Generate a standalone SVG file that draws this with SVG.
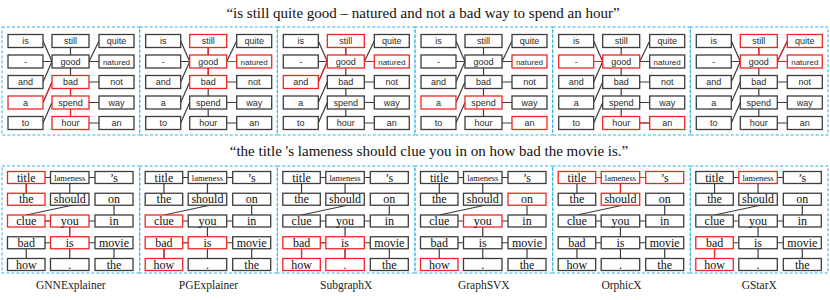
<svg xmlns="http://www.w3.org/2000/svg" xmlns:xlink="http://www.w3.org/1999/xlink" width="830" height="300" viewBox="0 0 830 300">
<style>
.pn{fill:none;stroke:#2fb2e6;stroke-width:1;stroke-dasharray:3 2}
.n rect{fill:#fff;stroke:#3c3c3c;stroke-width:1.3}
.n.r rect{stroke:#f02424}
.tt text{font-family:"Liberation Sans",Arial,sans-serif;font-size:9px;fill:#2a2a2a;text-anchor:middle}
.tt text.sm{font-size:8px}
.bt text{font-family:"Liberation Serif","Times New Roman",serif;font-size:12px;fill:#111;text-anchor:middle}
.bt text.sm{font-size:8.5px}
.e{stroke:#3c3c3c;stroke-width:1.2;fill:none}
.er{stroke:#f02424;stroke-width:1.2;fill:none}
.title{font-family:"Liberation Serif","Times New Roman",serif;font-size:15px;text-anchor:middle;fill:#111}
.lab{font-family:"Liberation Serif","Times New Roman",serif;font-size:11.5px;text-anchor:middle;fill:#222}
</style>
<defs>
<path id="topEdges" class="e" d="M41,41 L50,61.5 M41,61.5 H50 M41,82 L50,61.5 M68.5,47.5 V55 M97,41 L87,61.5 M87,61.5 H97 M68.5,68 V75.5 M87,82 H97 M41,102.5 L50,82 M68.5,88.5 V96 M41,123 L50,102.5 M87,102.5 H97 M68.5,109 V116.5 M87,123 H97"/>
<path id="botEdges" class="e" d="M43,177.5 H48.5 M87,177.5 H93 M24.25,183.5 V193.25 M67.75,183.5 V193.25 M70,205.25 L24.25,215 M112,205.25 V215 M43,221 H48.5 M87,221 H93 M67.75,227 V236.75 M43,242.75 H48.5 M87,242.75 H93 M24.25,248.75 V258.5 M67.75,248.75 V258.5 M112,248.75 V258.5"/>
</defs>

<text class="title" x="423" y="17.5">“is still quite good – natured and not a bad way to spend an hour”</text>
<text class="title" x="429" y="156">“the title 's lameness should clue you in on how bad the movie is.”</text>

<g id="panels">
<rect class="pn" x="2" y="27" width="137.7" height="108"/>
<rect class="pn" x="139.7" y="27" width="137.6" height="108"/>
<rect class="pn" x="277.3" y="27" width="137.7" height="108"/>
<rect class="pn" x="415" y="27" width="137.7" height="108"/>
<rect class="pn" x="552.7" y="27" width="137.6" height="108"/>
<rect class="pn" x="690.3" y="27" width="137.7" height="108"/>
<rect class="pn" x="2" y="166" width="137.7" height="107"/>
<rect class="pn" x="139.7" y="166" width="137.6" height="107"/>
<rect class="pn" x="277.3" y="166" width="137.7" height="107"/>
<rect class="pn" x="415" y="166" width="137.7" height="107"/>
<rect class="pn" x="552.7" y="166" width="137.6" height="107"/>
<rect class="pn" x="690.3" y="166" width="137.7" height="107"/>
</g>

<g id="connectors">
<use xlink:href="#topEdges" href="#topEdges" transform="translate(2,0)"/>
<use xlink:href="#topEdges" href="#topEdges" transform="translate(139.7,0)"/>
<use xlink:href="#topEdges" href="#topEdges" transform="translate(277.3,0)"/>
<use xlink:href="#topEdges" href="#topEdges" transform="translate(415,0)"/>
<use xlink:href="#topEdges" href="#topEdges" transform="translate(552.7,0)"/>
<use xlink:href="#topEdges" href="#topEdges" transform="translate(690.3,0)"/>
<use xlink:href="#botEdges" href="#botEdges" transform="translate(2,0)"/>
<use xlink:href="#botEdges" href="#botEdges" transform="translate(139.7,0)"/>
<use xlink:href="#botEdges" href="#botEdges" transform="translate(277.3,0)"/>
<use xlink:href="#botEdges" href="#botEdges" transform="translate(415,0)"/>
<use xlink:href="#botEdges" href="#botEdges" transform="translate(552.7,0)"/>
<use xlink:href="#botEdges" href="#botEdges" transform="translate(690.3,0)"/>
<path class="er" transform="translate(2,0)" d="M41,102.5 L50,82 M68.5,88.5 V96 M68.5,109 V116.5"/>
<path class="er" transform="translate(139.7,0)" d="M68.5,47.5 V55 M87,61.5 H97 M68.5,68 V75.5"/>
<path class="er" transform="translate(277.3,0)" d="M68.5,47.5 V55 M87,61.5 H97 M41,82 L50,61.5"/>
<path class="er" transform="translate(552.7,0)" d="M41,61.5 H50 M87,123 H97"/>
<path class="er" transform="translate(690.3,0)" d="M68.5,47.5 V55 M97,41 L87,61.5 M87,61.5 H97"/>
<path class="er" transform="translate(2,0)" d="M24.25,183.5 V193.25 M43,221 H48.5 M67.75,227 V236.75"/>
<path class="er" transform="translate(139.7,0)" d="M43,242.75 H48.5 M24.25,248.75 V258.5"/>
<path class="er" transform="translate(277.3,0)" d="M43,242.75 H48.5 M24.25,248.75 V258.5 M67.75,248.75 V258.5"/>
<path class="er" transform="translate(552.7,0)" d="M43,177.5 H48.5 M87,177.5 H93 M67.75,183.5 V193.25"/>
<path class="er" transform="translate(690.3,0)" d="M24.25,248.75 V258.5"/>
</g>

<g class="tt" transform="translate(2,0)">
<g id="t1-is" class="n"><rect x="6" y="34.5" width="35" height="13"/><text x="23.5" y="44.3">is</text></g>
<g id="t1-dash" class="n"><rect x="6" y="55" width="35" height="13"/><text x="23.5" y="64.8">-</text></g>
<g id="t1-and" class="n"><rect x="6" y="75.5" width="35" height="13"/><text x="23.5" y="85.3">and</text></g>
<g id="t1-a" class="n r"><rect x="6" y="96" width="35" height="13"/><text x="23.5" y="105.8">a</text></g>
<g id="t1-to" class="n"><rect x="6" y="116.5" width="35" height="13"/><text x="23.5" y="126.3">to</text></g>
<g id="t1-still" class="n"><rect x="50" y="34.5" width="37" height="13"/><text x="68.5" y="44.3">still</text></g>
<g id="t1-good" class="n"><rect x="50" y="55" width="37" height="13"/><text x="68.5" y="64.8">good</text></g>
<g id="t1-bad" class="n r"><rect x="50" y="75.5" width="37" height="13"/><text x="68.5" y="85.3">bad</text></g>
<g id="t1-spend" class="n r"><rect x="50" y="96" width="37" height="13"/><text x="68.5" y="105.8">spend</text></g>
<g id="t1-hour" class="n r"><rect x="50" y="116.5" width="37" height="13"/><text x="68.5" y="126.3">hour</text></g>
<g id="t1-quite" class="n"><rect x="97" y="34.5" width="35" height="13"/><text x="114.5" y="44.3">quite</text></g>
<g id="t1-natured" class="n"><rect x="97" y="55" width="35" height="13"/><text class="sm" x="114.5" y="64.5">natured</text></g>
<g id="t1-not" class="n"><rect x="97" y="75.5" width="35" height="13"/><text x="114.5" y="85.3">not</text></g>
<g id="t1-way" class="n"><rect x="97" y="96" width="35" height="13"/><text x="114.5" y="105.8">way</text></g>
<g id="t1-an" class="n"><rect x="97" y="116.5" width="35" height="13"/><text x="114.5" y="126.3">an</text></g>
</g>

<g class="tt" transform="translate(139.7,0)">
<g id="t2-is" class="n"><rect x="6" y="34.5" width="35" height="13"/><text x="23.5" y="44.3">is</text></g>
<g id="t2-dash" class="n"><rect x="6" y="55" width="35" height="13"/><text x="23.5" y="64.8">-</text></g>
<g id="t2-and" class="n"><rect x="6" y="75.5" width="35" height="13"/><text x="23.5" y="85.3">and</text></g>
<g id="t2-a" class="n"><rect x="6" y="96" width="35" height="13"/><text x="23.5" y="105.8">a</text></g>
<g id="t2-to" class="n"><rect x="6" y="116.5" width="35" height="13"/><text x="23.5" y="126.3">to</text></g>
<g id="t2-still" class="n r"><rect x="50" y="34.5" width="37" height="13"/><text x="68.5" y="44.3">still</text></g>
<g id="t2-good" class="n r"><rect x="50" y="55" width="37" height="13"/><text x="68.5" y="64.8">good</text></g>
<g id="t2-bad" class="n r"><rect x="50" y="75.5" width="37" height="13"/><text x="68.5" y="85.3">bad</text></g>
<g id="t2-spend" class="n"><rect x="50" y="96" width="37" height="13"/><text x="68.5" y="105.8">spend</text></g>
<g id="t2-hour" class="n"><rect x="50" y="116.5" width="37" height="13"/><text x="68.5" y="126.3">hour</text></g>
<g id="t2-quite" class="n"><rect x="97" y="34.5" width="35" height="13"/><text x="114.5" y="44.3">quite</text></g>
<g id="t2-natured" class="n r"><rect x="97" y="55" width="35" height="13"/><text class="sm" x="114.5" y="64.5">natured</text></g>
<g id="t2-not" class="n"><rect x="97" y="75.5" width="35" height="13"/><text x="114.5" y="85.3">not</text></g>
<g id="t2-way" class="n"><rect x="97" y="96" width="35" height="13"/><text x="114.5" y="105.8">way</text></g>
<g id="t2-an" class="n"><rect x="97" y="116.5" width="35" height="13"/><text x="114.5" y="126.3">an</text></g>
</g>

<g class="tt" transform="translate(277.3,0)">
<g id="t3-is" class="n"><rect x="6" y="34.5" width="35" height="13"/><text x="23.5" y="44.3">is</text></g>
<g id="t3-dash" class="n"><rect x="6" y="55" width="35" height="13"/><text x="23.5" y="64.8">-</text></g>
<g id="t3-and" class="n r"><rect x="6" y="75.5" width="35" height="13"/><text x="23.5" y="85.3">and</text></g>
<g id="t3-a" class="n"><rect x="6" y="96" width="35" height="13"/><text x="23.5" y="105.8">a</text></g>
<g id="t3-to" class="n"><rect x="6" y="116.5" width="35" height="13"/><text x="23.5" y="126.3">to</text></g>
<g id="t3-still" class="n r"><rect x="50" y="34.5" width="37" height="13"/><text x="68.5" y="44.3">still</text></g>
<g id="t3-good" class="n r"><rect x="50" y="55" width="37" height="13"/><text x="68.5" y="64.8">good</text></g>
<g id="t3-bad" class="n"><rect x="50" y="75.5" width="37" height="13"/><text x="68.5" y="85.3">bad</text></g>
<g id="t3-spend" class="n"><rect x="50" y="96" width="37" height="13"/><text x="68.5" y="105.8">spend</text></g>
<g id="t3-hour" class="n"><rect x="50" y="116.5" width="37" height="13"/><text x="68.5" y="126.3">hour</text></g>
<g id="t3-quite" class="n"><rect x="97" y="34.5" width="35" height="13"/><text x="114.5" y="44.3">quite</text></g>
<g id="t3-natured" class="n r"><rect x="97" y="55" width="35" height="13"/><text class="sm" x="114.5" y="64.5">natured</text></g>
<g id="t3-not" class="n"><rect x="97" y="75.5" width="35" height="13"/><text x="114.5" y="85.3">not</text></g>
<g id="t3-way" class="n"><rect x="97" y="96" width="35" height="13"/><text x="114.5" y="105.8">way</text></g>
<g id="t3-an" class="n"><rect x="97" y="116.5" width="35" height="13"/><text x="114.5" y="126.3">an</text></g>
</g>

<g class="tt" transform="translate(415,0)">
<g id="t4-is" class="n"><rect x="6" y="34.5" width="35" height="13"/><text x="23.5" y="44.3">is</text></g>
<g id="t4-dash" class="n"><rect x="6" y="55" width="35" height="13"/><text x="23.5" y="64.8">-</text></g>
<g id="t4-and" class="n"><rect x="6" y="75.5" width="35" height="13"/><text x="23.5" y="85.3">and</text></g>
<g id="t4-a" class="n r"><rect x="6" y="96" width="35" height="13"/><text x="23.5" y="105.8">a</text></g>
<g id="t4-to" class="n"><rect x="6" y="116.5" width="35" height="13"/><text x="23.5" y="126.3">to</text></g>
<g id="t4-still" class="n"><rect x="50" y="34.5" width="37" height="13"/><text x="68.5" y="44.3">still</text></g>
<g id="t4-good" class="n"><rect x="50" y="55" width="37" height="13"/><text x="68.5" y="64.8">good</text></g>
<g id="t4-bad" class="n"><rect x="50" y="75.5" width="37" height="13"/><text x="68.5" y="85.3">bad</text></g>
<g id="t4-spend" class="n r"><rect x="50" y="96" width="37" height="13"/><text x="68.5" y="105.8">spend</text></g>
<g id="t4-hour" class="n"><rect x="50" y="116.5" width="37" height="13"/><text x="68.5" y="126.3">hour</text></g>
<g id="t4-quite" class="n"><rect x="97" y="34.5" width="35" height="13"/><text x="114.5" y="44.3">quite</text></g>
<g id="t4-natured" class="n r"><rect x="97" y="55" width="35" height="13"/><text class="sm" x="114.5" y="64.5">natured</text></g>
<g id="t4-not" class="n"><rect x="97" y="75.5" width="35" height="13"/><text x="114.5" y="85.3">not</text></g>
<g id="t4-way" class="n"><rect x="97" y="96" width="35" height="13"/><text x="114.5" y="105.8">way</text></g>
<g id="t4-an" class="n r"><rect x="97" y="116.5" width="35" height="13"/><text x="114.5" y="126.3">an</text></g>
</g>

<g class="tt" transform="translate(552.7,0)">
<g id="t5-is" class="n"><rect x="6" y="34.5" width="35" height="13"/><text x="23.5" y="44.3">is</text></g>
<g id="t5-dash" class="n r"><rect x="6" y="55" width="35" height="13"/><text x="23.5" y="64.8">-</text></g>
<g id="t5-and" class="n"><rect x="6" y="75.5" width="35" height="13"/><text x="23.5" y="85.3">and</text></g>
<g id="t5-a" class="n"><rect x="6" y="96" width="35" height="13"/><text x="23.5" y="105.8">a</text></g>
<g id="t5-to" class="n"><rect x="6" y="116.5" width="35" height="13"/><text x="23.5" y="126.3">to</text></g>
<g id="t5-still" class="n"><rect x="50" y="34.5" width="37" height="13"/><text x="68.5" y="44.3">still</text></g>
<g id="t5-good" class="n r"><rect x="50" y="55" width="37" height="13"/><text x="68.5" y="64.8">good</text></g>
<g id="t5-bad" class="n"><rect x="50" y="75.5" width="37" height="13"/><text x="68.5" y="85.3">bad</text></g>
<g id="t5-spend" class="n"><rect x="50" y="96" width="37" height="13"/><text x="68.5" y="105.8">spend</text></g>
<g id="t5-hour" class="n r"><rect x="50" y="116.5" width="37" height="13"/><text x="68.5" y="126.3">hour</text></g>
<g id="t5-quite" class="n"><rect x="97" y="34.5" width="35" height="13"/><text x="114.5" y="44.3">quite</text></g>
<g id="t5-natured" class="n"><rect x="97" y="55" width="35" height="13"/><text class="sm" x="114.5" y="64.5">natured</text></g>
<g id="t5-not" class="n"><rect x="97" y="75.5" width="35" height="13"/><text x="114.5" y="85.3">not</text></g>
<g id="t5-way" class="n"><rect x="97" y="96" width="35" height="13"/><text x="114.5" y="105.8">way</text></g>
<g id="t5-an" class="n r"><rect x="97" y="116.5" width="35" height="13"/><text x="114.5" y="126.3">an</text></g>
</g>

<g class="tt" transform="translate(690.3,0)">
<g id="t6-is" class="n"><rect x="6" y="34.5" width="35" height="13"/><text x="23.5" y="44.3">is</text></g>
<g id="t6-dash" class="n"><rect x="6" y="55" width="35" height="13"/><text x="23.5" y="64.8">-</text></g>
<g id="t6-and" class="n"><rect x="6" y="75.5" width="35" height="13"/><text x="23.5" y="85.3">and</text></g>
<g id="t6-a" class="n"><rect x="6" y="96" width="35" height="13"/><text x="23.5" y="105.8">a</text></g>
<g id="t6-to" class="n"><rect x="6" y="116.5" width="35" height="13"/><text x="23.5" y="126.3">to</text></g>
<g id="t6-still" class="n r"><rect x="50" y="34.5" width="37" height="13"/><text x="68.5" y="44.3">still</text></g>
<g id="t6-good" class="n r"><rect x="50" y="55" width="37" height="13"/><text x="68.5" y="64.8">good</text></g>
<g id="t6-bad" class="n"><rect x="50" y="75.5" width="37" height="13"/><text x="68.5" y="85.3">bad</text></g>
<g id="t6-spend" class="n"><rect x="50" y="96" width="37" height="13"/><text x="68.5" y="105.8">spend</text></g>
<g id="t6-hour" class="n"><rect x="50" y="116.5" width="37" height="13"/><text x="68.5" y="126.3">hour</text></g>
<g id="t6-quite" class="n r"><rect x="97" y="34.5" width="35" height="13"/><text x="114.5" y="44.3">quite</text></g>
<g id="t6-natured" class="n r"><rect x="97" y="55" width="35" height="13"/><text class="sm" x="114.5" y="64.5">natured</text></g>
<g id="t6-not" class="n"><rect x="97" y="75.5" width="35" height="13"/><text x="114.5" y="85.3">not</text></g>
<g id="t6-way" class="n"><rect x="97" y="96" width="35" height="13"/><text x="114.5" y="105.8">way</text></g>
<g id="t6-an" class="n"><rect x="97" y="116.5" width="35" height="13"/><text x="114.5" y="126.3">an</text></g>
</g>

<g class="bt" transform="translate(2,0)">
<g id="b1-title" class="n r"><rect x="5.5" y="171.5" width="37.5" height="12"/><text x="24.25" y="181.5">title</text></g>
<g id="b1-the" class="n r"><rect x="5.5" y="193.25" width="37.5" height="12"/><text x="24.25" y="203.3">the</text></g>
<g id="b1-clue" class="n r"><rect x="5.5" y="215" width="37.5" height="12"/><text x="24.25" y="225">clue</text></g>
<g id="b1-bad" class="n"><rect x="5.5" y="236.75" width="37.5" height="12"/><text x="24.25" y="246.8">bad</text></g>
<g id="b1-how" class="n"><rect x="5.5" y="258.5" width="37.5" height="12"/><text x="24.25" y="268.5">how</text></g>
<g id="b1-lameness" class="n"><rect x="48.5" y="171.5" width="38.5" height="12"/><text class="sm" x="67.75" y="180.5">lameness</text></g>
<g id="b1-should" class="n"><rect x="48.5" y="193.25" width="38.5" height="12"/><text x="67.75" y="203.3">should</text></g>
<g id="b1-you" class="n r"><rect x="48.5" y="215" width="38.5" height="12"/><text x="67.75" y="225">you</text></g>
<g id="b1-is" class="n r"><rect x="48.5" y="236.75" width="38.5" height="12"/><text x="67.75" y="246.8">is</text></g>
<g id="b1-dot" class="n"><rect x="48.5" y="258.5" width="38.5" height="12"/><text x="67.75" y="268.5">.</text></g>
<g id="b1-s" class="n"><rect x="93" y="171.5" width="38" height="12"/><text x="112" y="181.5">’s</text></g>
<g id="b1-on" class="n"><rect x="93" y="193.25" width="38" height="12"/><text x="112" y="203.3">on</text></g>
<g id="b1-in" class="n"><rect x="93" y="215" width="38" height="12"/><text x="112" y="225">in</text></g>
<g id="b1-movie" class="n"><rect x="93" y="236.75" width="38" height="12"/><text x="112" y="246.8">movie</text></g>
<g id="b1-the2" class="n"><rect x="93" y="258.5" width="38" height="12"/><text x="112" y="268.5">the</text></g>
</g>

<g class="bt" transform="translate(139.7,0)">
<g id="b2-title" class="n"><rect x="5.5" y="171.5" width="37.5" height="12"/><text x="24.25" y="181.5">title</text></g>
<g id="b2-the" class="n"><rect x="5.5" y="193.25" width="37.5" height="12"/><text x="24.25" y="203.3">the</text></g>
<g id="b2-clue" class="n r"><rect x="5.5" y="215" width="37.5" height="12"/><text x="24.25" y="225">clue</text></g>
<g id="b2-bad" class="n r"><rect x="5.5" y="236.75" width="37.5" height="12"/><text x="24.25" y="246.8">bad</text></g>
<g id="b2-how" class="n r"><rect x="5.5" y="258.5" width="37.5" height="12"/><text x="24.25" y="268.5">how</text></g>
<g id="b2-lameness" class="n"><rect x="48.5" y="171.5" width="38.5" height="12"/><text class="sm" x="67.75" y="180.5">lameness</text></g>
<g id="b2-should" class="n"><rect x="48.5" y="193.25" width="38.5" height="12"/><text x="67.75" y="203.3">should</text></g>
<g id="b2-you" class="n"><rect x="48.5" y="215" width="38.5" height="12"/><text x="67.75" y="225">you</text></g>
<g id="b2-is" class="n r"><rect x="48.5" y="236.75" width="38.5" height="12"/><text x="67.75" y="246.8">is</text></g>
<g id="b2-dot" class="n"><rect x="48.5" y="258.5" width="38.5" height="12"/><text x="67.75" y="268.5">.</text></g>
<g id="b2-s" class="n"><rect x="93" y="171.5" width="38" height="12"/><text x="112" y="181.5">’s</text></g>
<g id="b2-on" class="n"><rect x="93" y="193.25" width="38" height="12"/><text x="112" y="203.3">on</text></g>
<g id="b2-in" class="n"><rect x="93" y="215" width="38" height="12"/><text x="112" y="225">in</text></g>
<g id="b2-movie" class="n"><rect x="93" y="236.75" width="38" height="12"/><text x="112" y="246.8">movie</text></g>
<g id="b2-the2" class="n"><rect x="93" y="258.5" width="38" height="12"/><text x="112" y="268.5">the</text></g>
</g>

<g class="bt" transform="translate(277.3,0)">
<g id="b3-title" class="n"><rect x="5.5" y="171.5" width="37.5" height="12"/><text x="24.25" y="181.5">title</text></g>
<g id="b3-the" class="n"><rect x="5.5" y="193.25" width="37.5" height="12"/><text x="24.25" y="203.3">the</text></g>
<g id="b3-clue" class="n"><rect x="5.5" y="215" width="37.5" height="12"/><text x="24.25" y="225">clue</text></g>
<g id="b3-bad" class="n r"><rect x="5.5" y="236.75" width="37.5" height="12"/><text x="24.25" y="246.8">bad</text></g>
<g id="b3-how" class="n r"><rect x="5.5" y="258.5" width="37.5" height="12"/><text x="24.25" y="268.5">how</text></g>
<g id="b3-lameness" class="n"><rect x="48.5" y="171.5" width="38.5" height="12"/><text class="sm" x="67.75" y="180.5">lameness</text></g>
<g id="b3-should" class="n"><rect x="48.5" y="193.25" width="38.5" height="12"/><text x="67.75" y="203.3">should</text></g>
<g id="b3-you" class="n"><rect x="48.5" y="215" width="38.5" height="12"/><text x="67.75" y="225">you</text></g>
<g id="b3-is" class="n r"><rect x="48.5" y="236.75" width="38.5" height="12"/><text x="67.75" y="246.8">is</text></g>
<g id="b3-dot" class="n r"><rect x="48.5" y="258.5" width="38.5" height="12"/><text x="67.75" y="268.5">.</text></g>
<g id="b3-s" class="n"><rect x="93" y="171.5" width="38" height="12"/><text x="112" y="181.5">’s</text></g>
<g id="b3-on" class="n"><rect x="93" y="193.25" width="38" height="12"/><text x="112" y="203.3">on</text></g>
<g id="b3-in" class="n"><rect x="93" y="215" width="38" height="12"/><text x="112" y="225">in</text></g>
<g id="b3-movie" class="n"><rect x="93" y="236.75" width="38" height="12"/><text x="112" y="246.8">movie</text></g>
<g id="b3-the2" class="n"><rect x="93" y="258.5" width="38" height="12"/><text x="112" y="268.5">the</text></g>
</g>

<g class="bt" transform="translate(415,0)">
<g id="b4-title" class="n"><rect x="5.5" y="171.5" width="37.5" height="12"/><text x="24.25" y="181.5">title</text></g>
<g id="b4-the" class="n"><rect x="5.5" y="193.25" width="37.5" height="12"/><text x="24.25" y="203.3">the</text></g>
<g id="b4-clue" class="n"><rect x="5.5" y="215" width="37.5" height="12"/><text x="24.25" y="225">clue</text></g>
<g id="b4-bad" class="n"><rect x="5.5" y="236.75" width="37.5" height="12"/><text x="24.25" y="246.8">bad</text></g>
<g id="b4-how" class="n r"><rect x="5.5" y="258.5" width="37.5" height="12"/><text x="24.25" y="268.5">how</text></g>
<g id="b4-lameness" class="n"><rect x="48.5" y="171.5" width="38.5" height="12"/><text class="sm" x="67.75" y="180.5">lameness</text></g>
<g id="b4-should" class="n"><rect x="48.5" y="193.25" width="38.5" height="12"/><text x="67.75" y="203.3">should</text></g>
<g id="b4-you" class="n r"><rect x="48.5" y="215" width="38.5" height="12"/><text x="67.75" y="225">you</text></g>
<g id="b4-is" class="n"><rect x="48.5" y="236.75" width="38.5" height="12"/><text x="67.75" y="246.8">is</text></g>
<g id="b4-dot" class="n"><rect x="48.5" y="258.5" width="38.5" height="12"/><text x="67.75" y="268.5">.</text></g>
<g id="b4-s" class="n"><rect x="93" y="171.5" width="38" height="12"/><text x="112" y="181.5">’s</text></g>
<g id="b4-on" class="n r"><rect x="93" y="193.25" width="38" height="12"/><text x="112" y="203.3">on</text></g>
<g id="b4-in" class="n"><rect x="93" y="215" width="38" height="12"/><text x="112" y="225">in</text></g>
<g id="b4-movie" class="n"><rect x="93" y="236.75" width="38" height="12"/><text x="112" y="246.8">movie</text></g>
<g id="b4-the2" class="n"><rect x="93" y="258.5" width="38" height="12"/><text x="112" y="268.5">the</text></g>
</g>

<g class="bt" transform="translate(552.7,0)">
<g id="b5-title" class="n r"><rect x="5.5" y="171.5" width="37.5" height="12"/><text x="24.25" y="181.5">title</text></g>
<g id="b5-the" class="n"><rect x="5.5" y="193.25" width="37.5" height="12"/><text x="24.25" y="203.3">the</text></g>
<g id="b5-clue" class="n"><rect x="5.5" y="215" width="37.5" height="12"/><text x="24.25" y="225">clue</text></g>
<g id="b5-bad" class="n"><rect x="5.5" y="236.75" width="37.5" height="12"/><text x="24.25" y="246.8">bad</text></g>
<g id="b5-how" class="n"><rect x="5.5" y="258.5" width="37.5" height="12"/><text x="24.25" y="268.5">how</text></g>
<g id="b5-lameness" class="n r"><rect x="48.5" y="171.5" width="38.5" height="12"/><text class="sm" x="67.75" y="180.5">lameness</text></g>
<g id="b5-should" class="n r"><rect x="48.5" y="193.25" width="38.5" height="12"/><text x="67.75" y="203.3">should</text></g>
<g id="b5-you" class="n"><rect x="48.5" y="215" width="38.5" height="12"/><text x="67.75" y="225">you</text></g>
<g id="b5-is" class="n"><rect x="48.5" y="236.75" width="38.5" height="12"/><text x="67.75" y="246.8">is</text></g>
<g id="b5-dot" class="n"><rect x="48.5" y="258.5" width="38.5" height="12"/><text x="67.75" y="268.5">.</text></g>
<g id="b5-s" class="n r"><rect x="93" y="171.5" width="38" height="12"/><text x="112" y="181.5">’s</text></g>
<g id="b5-on" class="n"><rect x="93" y="193.25" width="38" height="12"/><text x="112" y="203.3">on</text></g>
<g id="b5-in" class="n"><rect x="93" y="215" width="38" height="12"/><text x="112" y="225">in</text></g>
<g id="b5-movie" class="n"><rect x="93" y="236.75" width="38" height="12"/><text x="112" y="246.8">movie</text></g>
<g id="b5-the2" class="n"><rect x="93" y="258.5" width="38" height="12"/><text x="112" y="268.5">the</text></g>
</g>

<g class="bt" transform="translate(690.3,0)">
<g id="b6-title" class="n"><rect x="5.5" y="171.5" width="37.5" height="12"/><text x="24.25" y="181.5">title</text></g>
<g id="b6-the" class="n"><rect x="5.5" y="193.25" width="37.5" height="12"/><text x="24.25" y="203.3">the</text></g>
<g id="b6-clue" class="n"><rect x="5.5" y="215" width="37.5" height="12"/><text x="24.25" y="225">clue</text></g>
<g id="b6-bad" class="n r"><rect x="5.5" y="236.75" width="37.5" height="12"/><text x="24.25" y="246.8">bad</text></g>
<g id="b6-how" class="n r"><rect x="5.5" y="258.5" width="37.5" height="12"/><text x="24.25" y="268.5">how</text></g>
<g id="b6-lameness" class="n r"><rect x="48.5" y="171.5" width="38.5" height="12"/><text class="sm" x="67.75" y="180.5">lameness</text></g>
<g id="b6-should" class="n"><rect x="48.5" y="193.25" width="38.5" height="12"/><text x="67.75" y="203.3">should</text></g>
<g id="b6-you" class="n"><rect x="48.5" y="215" width="38.5" height="12"/><text x="67.75" y="225">you</text></g>
<g id="b6-is" class="n"><rect x="48.5" y="236.75" width="38.5" height="12"/><text x="67.75" y="246.8">is</text></g>
<g id="b6-dot" class="n"><rect x="48.5" y="258.5" width="38.5" height="12"/><text x="67.75" y="268.5">.</text></g>
<g id="b6-s" class="n"><rect x="93" y="171.5" width="38" height="12"/><text x="112" y="181.5">’s</text></g>
<g id="b6-on" class="n"><rect x="93" y="193.25" width="38" height="12"/><text x="112" y="203.3">on</text></g>
<g id="b6-in" class="n"><rect x="93" y="215" width="38" height="12"/><text x="112" y="225">in</text></g>
<g id="b6-movie" class="n"><rect x="93" y="236.75" width="38" height="12"/><text x="112" y="246.8">movie</text></g>
<g id="b6-the2" class="n"><rect x="93" y="258.5" width="38" height="12"/><text x="112" y="268.5">the</text></g>
</g>

<g id="labels">
<text class="lab" x="70.8" y="289">GNNExplainer</text>
<text class="lab" x="208.5" y="289">PGExplainer</text>
<text class="lab" x="346.2" y="289">SubgraphX</text>
<text class="lab" x="483.8" y="289">GraphSVX</text>
<text class="lab" x="621.5" y="289">OrphicX</text>
<text class="lab" x="759.2" y="289">GStarX</text>
</g>
</svg>
